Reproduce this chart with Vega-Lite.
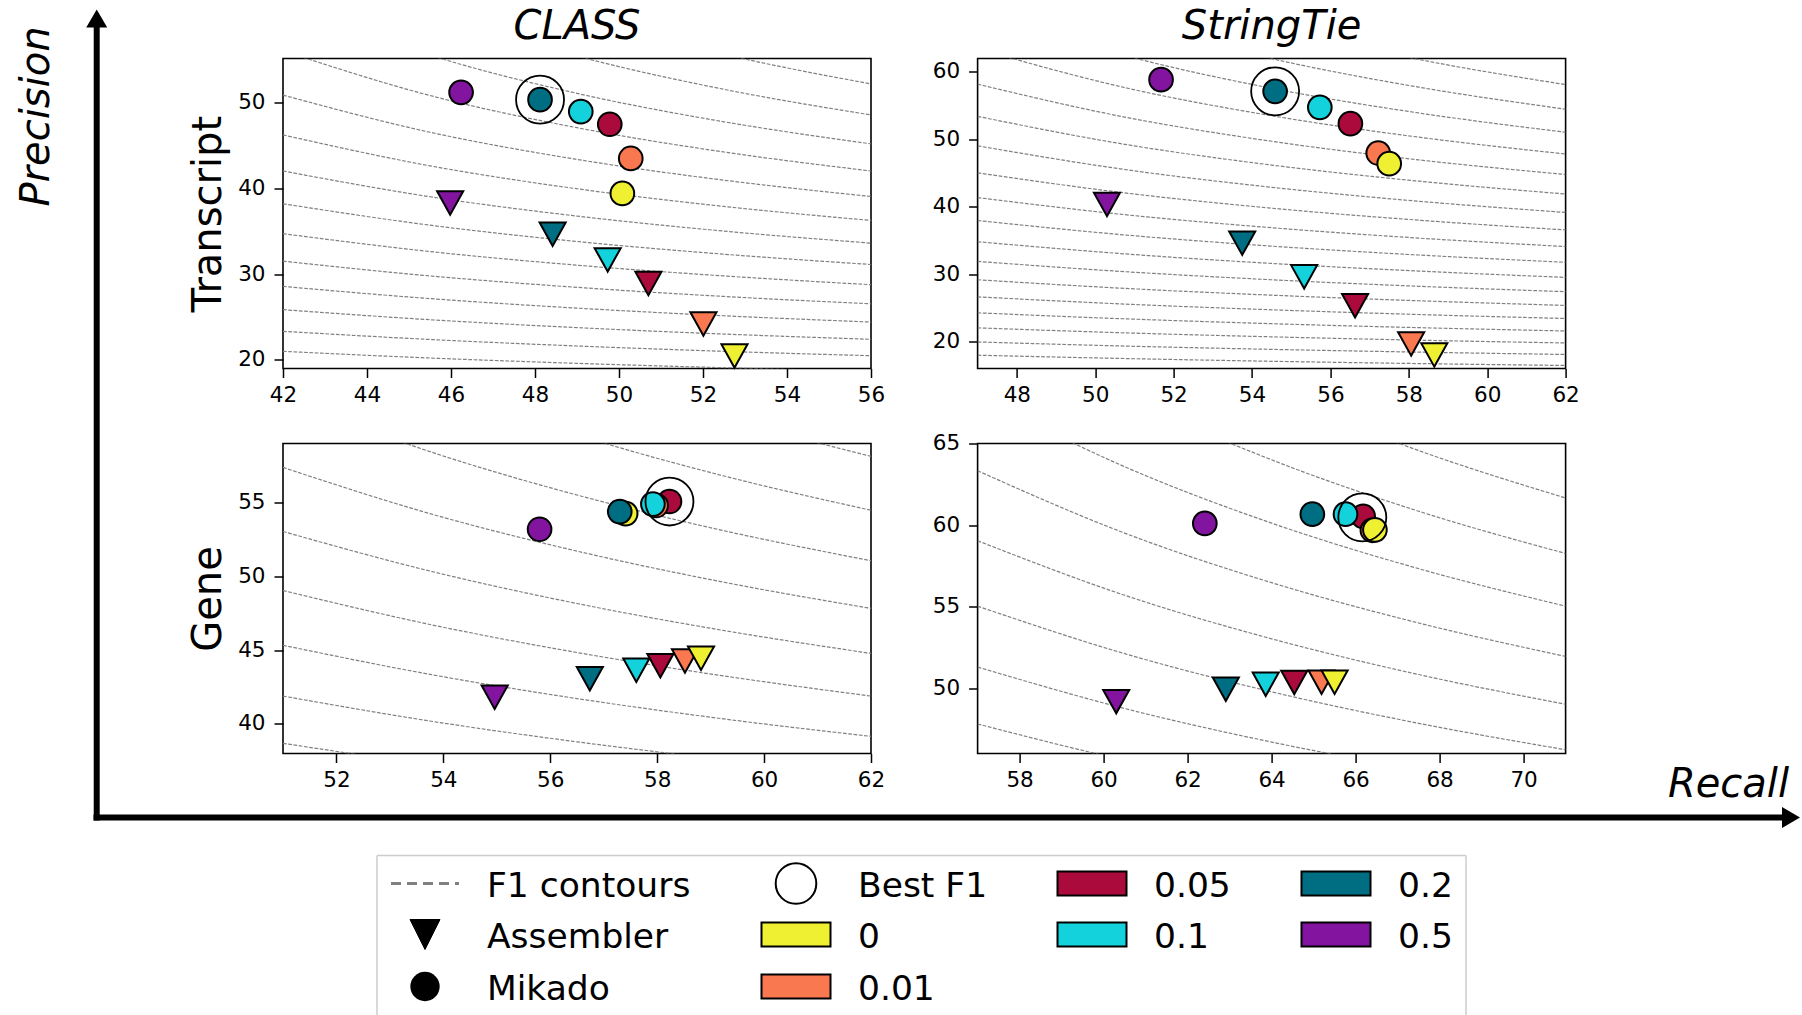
{
"$schema":"https://vega.github.io/schema/vega-lite/v6.json",
"autosize":{"type":"pad"},
"padding":{"left":16,"top":5.5,"right":0,"bottom":0},
"background":"white",
"datasets":{
"pts":[
{"t":"CLASS","l":"Transcript","m":"A","thr":"0.05","recall":50.70,"precision":28.90},
{"t":"CLASS","l":"Transcript","m":"A","thr":"0.01","recall":52.01,"precision":24.18},
{"t":"CLASS","l":"Transcript","m":"A","thr":"0","recall":52.75,"precision":20.46},
{"t":"CLASS","l":"Transcript","m":"A","thr":"0.1","recall":49.73,"precision":31.65},
{"t":"CLASS","l":"Transcript","m":"A","thr":"0.2","recall":48.42,"precision":34.63},
{"t":"CLASS","l":"Transcript","m":"A","thr":"0.5","recall":45.98,"precision":38.27},
{"t":"CLASS","l":"Transcript","m":"M","thr":"0.05","recall":49.78,"precision":47.44},
{"t":"CLASS","l":"Transcript","m":"M","thr":"0.01","recall":50.28,"precision":43.46},
{"t":"CLASS","l":"Transcript","m":"M","thr":"0","recall":50.08,"precision":39.39},
{"t":"CLASS","l":"Transcript","m":"M","thr":"0.1","recall":49.09,"precision":48.92},
{"t":"CLASS","l":"Transcript","m":"M","thr":"0.2","recall":48.12,"precision":50.31},
{"t":"CLASS","l":"Transcript","m":"M","thr":"0.5","recall":46.24,"precision":51.16},
{"t":"StringTie","l":"Transcript","m":"A","thr":"0.05","recall":56.63,"precision":25.30},
{"t":"StringTie","l":"Transcript","m":"A","thr":"0.01","recall":58.06,"precision":19.65},
{"t":"StringTie","l":"Transcript","m":"A","thr":"0","recall":58.65,"precision":18.02},
{"t":"StringTie","l":"Transcript","m":"A","thr":"0.1","recall":55.33,"precision":29.60},
{"t":"StringTie","l":"Transcript","m":"A","thr":"0.2","recall":53.75,"precision":34.60},
{"t":"StringTie","l":"Transcript","m":"A","thr":"0.5","recall":50.30,"precision":40.35},
{"t":"StringTie","l":"Transcript","m":"M","thr":"0.05","recall":56.51,"precision":52.33},
{"t":"StringTie","l":"Transcript","m":"M","thr":"0.01","recall":57.22,"precision":47.97},
{"t":"StringTie","l":"Transcript","m":"M","thr":"0","recall":57.50,"precision":46.39},
{"t":"StringTie","l":"Transcript","m":"M","thr":"0.1","recall":55.73,"precision":54.75},
{"t":"StringTie","l":"Transcript","m":"M","thr":"0.2","recall":54.59,"precision":57.13},
{"t":"StringTie","l":"Transcript","m":"M","thr":"0.5","recall":51.68,"precision":58.86},
{"t":"CLASS","l":"Gene","m":"A","thr":"0.05","recall":58.06,"precision":43.95},
{"t":"CLASS","l":"Gene","m":"A","thr":"0.01","recall":58.52,"precision":44.27},
{"t":"CLASS","l":"Gene","m":"A","thr":"0","recall":58.82,"precision":44.45},
{"t":"CLASS","l":"Gene","m":"A","thr":"0.1","recall":57.61,"precision":43.64},
{"t":"CLASS","l":"Gene","m":"A","thr":"0.2","recall":56.74,"precision":43.07},
{"t":"CLASS","l":"Gene","m":"A","thr":"0.5","recall":54.96,"precision":41.81},
{"t":"CLASS","l":"Gene","m":"M","thr":"0.05","recall":58.23,"precision":55.07},
{"t":"CLASS","l":"Gene","m":"M","thr":"0.01","recall":57.98,"precision":54.80},
{"t":"CLASS","l":"Gene","m":"M","thr":"0","recall":57.41,"precision":54.25},
{"t":"CLASS","l":"Gene","m":"M","thr":"0.1","recall":57.92,"precision":54.89},
{"t":"CLASS","l":"Gene","m":"M","thr":"0.2","recall":57.30,"precision":54.39},
{"t":"CLASS","l":"Gene","m":"M","thr":"0.5","recall":55.80,"precision":53.19},
{"t":"StringTie","l":"Gene","m":"A","thr":"0.05","recall":64.54,"precision":50.35},
{"t":"StringTie","l":"Gene","m":"A","thr":"0.01","recall":65.19,"precision":50.37},
{"t":"StringTie","l":"Gene","m":"A","thr":"0","recall":65.50,"precision":50.37},
{"t":"StringTie","l":"Gene","m":"A","thr":"0.1","recall":63.86,"precision":50.25},
{"t":"StringTie","l":"Gene","m":"A","thr":"0.2","recall":62.91,"precision":49.94},
{"t":"StringTie","l":"Gene","m":"A","thr":"0.5","recall":60.30,"precision":49.18},
{"t":"StringTie","l":"Gene","m":"M","thr":"0.05","recall":66.18,"precision":60.53},
{"t":"StringTie","l":"Gene","m":"M","thr":"0.01","recall":66.40,"precision":59.68},
{"t":"StringTie","l":"Gene","m":"M","thr":"0","recall":66.46,"precision":59.71},
{"t":"StringTie","l":"Gene","m":"M","thr":"0.1","recall":65.76,"precision":60.67},
{"t":"StringTie","l":"Gene","m":"M","thr":"0.2","recall":64.97,"precision":60.67},
{"t":"StringTie","l":"Gene","m":"M","thr":"0.5","recall":62.41,"precision":60.10}
],
"best":[
{"t":"CLASS","l":"Transcript","recall":48.12,"precision":50.31},
{"t":"StringTie","l":"Transcript","recall":54.59,"precision":57.13},
{"t":"CLASS","l":"Gene","recall":58.23,"precision":55.07},
{"t":"StringTie","l":"Gene","recall":66.16,"precision":60.47}
],
"contours":[
{"p":"TL","f":28,"recall":42,"precision":21.0},{"p":"TL","f":28,"recall":45.5,"precision":20.22},{"p":"TL","f":28,"recall":49,"precision":19.6},{"p":"TL","f":28,"recall":52.5,"precision":19.09},{"p":"TL","f":28,"recall":56,"precision":18.67},
{"p":"TL","f":30,"recall":42,"precision":23.33},{"p":"TL","f":30,"recall":45.5,"precision":22.38},{"p":"TL","f":30,"recall":49,"precision":21.62},{"p":"TL","f":30,"recall":52.5,"precision":21.0},{"p":"TL","f":30,"recall":56,"precision":20.49},
{"p":"TL","f":32,"recall":42,"precision":25.85},{"p":"TL","f":32,"recall":45.5,"precision":24.68},{"p":"TL","f":32,"recall":49,"precision":23.76},{"p":"TL","f":32,"recall":52.5,"precision":23.01},{"p":"TL","f":32,"recall":56,"precision":22.4},
{"p":"TL","f":34,"recall":42,"precision":28.56},{"p":"TL","f":34,"recall":45.5,"precision":27.14},{"p":"TL","f":34,"recall":49,"precision":26.03},{"p":"TL","f":34,"recall":52.5,"precision":25.14},{"p":"TL","f":34,"recall":56,"precision":24.41},
{"p":"TL","f":36,"recall":42,"precision":31.5},{"p":"TL","f":36,"recall":45.5,"precision":29.78},{"p":"TL","f":36,"recall":49,"precision":28.45},{"p":"TL","f":36,"recall":52.5,"precision":27.39},{"p":"TL","f":36,"recall":56,"precision":26.53},
{"p":"TL","f":38,"recall":42,"precision":34.7},{"p":"TL","f":38,"recall":45.5,"precision":32.62},{"p":"TL","f":38,"recall":49,"precision":31.03},{"p":"TL","f":38,"recall":52.5,"precision":29.78},{"p":"TL","f":38,"recall":56,"precision":28.76},
{"p":"TL","f":40,"recall":42,"precision":38.18},{"p":"TL","f":40,"recall":45.5,"precision":35.69},{"p":"TL","f":40,"recall":49,"precision":33.79},{"p":"TL","f":40,"recall":52.5,"precision":32.31},{"p":"TL","f":40,"recall":56,"precision":31.11},
{"p":"TL","f":42,"recall":42,"precision":42.0},{"p":"TL","f":42,"recall":45.5,"precision":39.0},{"p":"TL","f":42,"recall":49,"precision":36.75},{"p":"TL","f":42,"recall":52.5,"precision":35.0},{"p":"TL","f":42,"recall":56,"precision":33.6},
{"p":"TL","f":44,"recall":42,"precision":46.2},{"p":"TL","f":44,"recall":45.5,"precision":42.6},{"p":"TL","f":44,"recall":49,"precision":39.93},{"p":"TL","f":44,"recall":52.5,"precision":37.87},{"p":"TL","f":44,"recall":56,"precision":36.24},
{"p":"TL","f":46,"recall":42,"precision":50.84},{"p":"TL","f":46,"recall":45.5,"precision":46.51},{"p":"TL","f":46,"recall":49,"precision":43.35},{"p":"TL","f":46,"recall":52.5,"precision":40.93},{"p":"TL","f":46,"recall":56,"precision":39.03},
{"p":"TL","f":48,"recall":42,"precision":56.0},{"p":"TL","f":48,"recall":45.5,"precision":50.79},{"p":"TL","f":48,"recall":49,"precision":47.04},{"p":"TL","f":48,"recall":52.5,"precision":44.21},{"p":"TL","f":48,"recall":56,"precision":42.0},
{"p":"TL","f":50,"recall":42,"precision":61.76},{"p":"TL","f":50,"recall":45.5,"precision":55.49},{"p":"TL","f":50,"recall":49,"precision":51.04},{"p":"TL","f":50,"recall":52.5,"precision":47.73},{"p":"TL","f":50,"recall":56,"precision":45.16},
{"p":"TL","f":52,"recall":42,"precision":68.25},{"p":"TL","f":52,"recall":45.5,"precision":60.67},{"p":"TL","f":52,"recall":49,"precision":55.39},{"p":"TL","f":52,"recall":52.5,"precision":51.51},{"p":"TL","f":52,"recall":56,"precision":48.53},
{"p":"TL","f":54,"recall":42,"precision":75.6},{"p":"TL","f":54,"recall":45.5,"precision":66.41},{"p":"TL","f":54,"recall":49,"precision":60.14},{"p":"TL","f":54,"recall":52.5,"precision":55.59},{"p":"TL","f":54,"recall":56,"precision":52.14},
{"p":"TR","f":26,"recall":47,"precision":17.97},{"p":"TR","f":26,"recall":50.75,"precision":17.48},{"p":"TR","f":26,"recall":54.5,"precision":17.07},{"p":"TR","f":26,"recall":58.25,"precision":16.73},{"p":"TR","f":26,"recall":62,"precision":16.45},
{"p":"TR","f":28,"recall":47,"precision":19.94},{"p":"TR","f":28,"recall":50.75,"precision":19.33},{"p":"TR","f":28,"recall":54.5,"precision":18.84},{"p":"TR","f":28,"recall":58.25,"precision":18.43},{"p":"TR","f":28,"recall":62,"precision":18.08},
{"p":"TR","f":30,"recall":47,"precision":22.03},{"p":"TR","f":30,"recall":50.75,"precision":21.29},{"p":"TR","f":30,"recall":54.5,"precision":20.70},{"p":"TR","f":30,"recall":58.25,"precision":20.20},{"p":"TR","f":30,"recall":62,"precision":19.79},
{"p":"TR","f":32,"recall":47,"precision":24.26},{"p":"TR","f":32,"recall":50.75,"precision":23.37},{"p":"TR","f":32,"recall":54.5,"precision":22.65},{"p":"TR","f":32,"recall":58.25,"precision":22.06},{"p":"TR","f":32,"recall":62,"precision":21.57},
{"p":"TR","f":34,"recall":47,"precision":26.63},{"p":"TR","f":34,"recall":50.75,"precision":25.56},{"p":"TR","f":34,"recall":54.5,"precision":24.71},{"p":"TR","f":34,"recall":58.25,"precision":24.01},{"p":"TR","f":34,"recall":62,"precision":23.42},
{"p":"TR","f":36,"recall":47,"precision":29.17},{"p":"TR","f":36,"recall":50.75,"precision":27.89},{"p":"TR","f":36,"recall":54.5,"precision":26.88},{"p":"TR","f":36,"recall":58.25,"precision":26.05},{"p":"TR","f":36,"recall":62,"precision":25.36},
{"p":"TR","f":38,"recall":47,"precision":31.89},{"p":"TR","f":38,"recall":50.75,"precision":30.37},{"p":"TR","f":38,"recall":54.5,"precision":29.17},{"p":"TR","f":38,"recall":58.25,"precision":28.20},{"p":"TR","f":38,"recall":62,"precision":27.40},
{"p":"TR","f":40,"recall":47,"precision":34.81},{"p":"TR","f":40,"recall":50.75,"precision":33.01},{"p":"TR","f":40,"recall":54.5,"precision":31.59},{"p":"TR","f":40,"recall":58.25,"precision":30.46},{"p":"TR","f":40,"recall":62,"precision":29.52},
{"p":"TR","f":42,"recall":47,"precision":37.96},{"p":"TR","f":42,"recall":50.75,"precision":35.82},{"p":"TR","f":42,"recall":54.5,"precision":34.16},{"p":"TR","f":42,"recall":58.25,"precision":32.84},{"p":"TR","f":42,"recall":62,"precision":31.76},
{"p":"TR","f":44,"recall":47,"precision":41.36},{"p":"TR","f":44,"recall":50.75,"precision":38.83},{"p":"TR","f":44,"recall":54.5,"precision":36.89},{"p":"TR","f":44,"recall":58.25,"precision":35.35},{"p":"TR","f":44,"recall":62,"precision":34.10},
{"p":"TR","f":46,"recall":47,"precision":45.04},{"p":"TR","f":46,"recall":50.75,"precision":42.06},{"p":"TR","f":46,"recall":54.5,"precision":39.79},{"p":"TR","f":46,"recall":58.25,"precision":38.01},{"p":"TR","f":46,"recall":62,"precision":36.56},
{"p":"TR","f":48,"recall":47,"precision":49.04},{"p":"TR","f":48,"recall":50.75,"precision":45.53},{"p":"TR","f":48,"recall":54.5,"precision":42.89},{"p":"TR","f":48,"recall":58.25,"precision":40.82},{"p":"TR","f":48,"recall":62,"precision":39.16},
{"p":"TR","f":50,"recall":47,"precision":53.41},{"p":"TR","f":50,"recall":50.75,"precision":49.27},{"p":"TR","f":50,"recall":54.5,"precision":46.19},{"p":"TR","f":50,"recall":58.25,"precision":43.80},{"p":"TR","f":50,"recall":62,"precision":41.89},
{"p":"TR","f":52,"recall":47,"precision":58.19},{"p":"TR","f":52,"recall":50.75,"precision":53.31},{"p":"TR","f":52,"recall":54.5,"precision":49.72},{"p":"TR","f":52,"recall":58.25,"precision":46.96},{"p":"TR","f":52,"recall":62,"precision":44.78},
{"p":"TR","f":54,"recall":47,"precision":63.45},{"p":"TR","f":54,"recall":50.75,"precision":57.69},{"p":"TR","f":54,"recall":54.5,"precision":53.51},{"p":"TR","f":54,"recall":58.25,"precision":50.33},{"p":"TR","f":54,"recall":62,"precision":47.83},
{"p":"TR","f":56,"recall":47,"precision":69.26},{"p":"TR","f":56,"recall":50.75,"precision":62.46},{"p":"TR","f":56,"recall":54.5,"precision":57.58},{"p":"TR","f":56,"recall":58.25,"precision":53.92},{"p":"TR","f":56,"recall":62,"precision":51.06},
{"p":"TR","f":58,"recall":47,"precision":75.72},{"p":"TR","f":58,"recall":50.75,"precision":67.67},{"p":"TR","f":58,"recall":54.5,"precision":61.98},{"p":"TR","f":58,"recall":58.25,"precision":57.75},{"p":"TR","f":58,"recall":62,"precision":54.48},
{"p":"TR","f":60,"recall":47,"precision":82.94},{"p":"TR","f":60,"recall":50.75,"precision":73.37},{"p":"TR","f":60,"recall":54.5,"precision":66.73},{"p":"TR","f":60,"recall":58.25,"precision":61.86},{"p":"TR","f":60,"recall":62,"precision":58.13},
{"p":"BL","f":44,"recall":51,"precision":38.69},{"p":"BL","f":44,"recall":53.75,"precision":37.24},{"p":"BL","f":44,"recall":56.5,"precision":36.03},{"p":"BL","f":44,"recall":59.25,"precision":34.99},{"p":"BL","f":44,"recall":62,"precision":34.10},
{"p":"BL","f":46,"recall":51,"precision":41.89},{"p":"BL","f":46,"recall":53.75,"precision":40.20},{"p":"BL","f":46,"recall":56.5,"precision":38.79},{"p":"BL","f":46,"recall":59.25,"precision":37.59},{"p":"BL","f":46,"recall":62,"precision":36.56},
{"p":"BL","f":48,"recall":51,"precision":45.33},{"p":"BL","f":48,"recall":53.75,"precision":43.36},{"p":"BL","f":48,"recall":56.5,"precision":41.72},{"p":"BL","f":48,"recall":59.25,"precision":40.34},{"p":"BL","f":48,"recall":62,"precision":39.16},
{"p":"BL","f":50,"recall":51,"precision":49.04},{"p":"BL","f":50,"recall":53.75,"precision":46.74},{"p":"BL","f":50,"recall":56.5,"precision":44.84},{"p":"BL","f":50,"recall":59.25,"precision":43.25},{"p":"BL","f":50,"recall":62,"precision":41.89},
{"p":"BL","f":52,"recall":51,"precision":53.04},{"p":"BL","f":52,"recall":53.75,"precision":50.36},{"p":"BL","f":52,"recall":56.5,"precision":48.16},{"p":"BL","f":52,"recall":59.25,"precision":46.33},{"p":"BL","f":52,"recall":62,"precision":44.78},
{"p":"BL","f":54,"recall":51,"precision":57.38},{"p":"BL","f":54,"recall":53.75,"precision":54.25},{"p":"BL","f":54,"recall":56.5,"precision":51.71},{"p":"BL","f":54,"recall":59.25,"precision":49.60},{"p":"BL","f":54,"recall":62,"precision":47.83},
{"p":"BL","f":56,"recall":51,"precision":62.09},{"p":"BL","f":56,"recall":53.75,"precision":58.45},{"p":"BL","f":56,"recall":56.5,"precision":55.51},{"p":"BL","f":56,"recall":59.25,"precision":53.09},{"p":"BL","f":56,"recall":62,"precision":51.06},
{"p":"BL","f":58,"recall":51,"precision":67.23},{"p":"BL","f":58,"recall":53.75,"precision":62.98},{"p":"BL","f":58,"recall":56.5,"precision":59.58},{"p":"BL","f":58,"recall":59.25,"precision":56.80},{"p":"BL","f":58,"recall":62,"precision":54.48},
{"p":"BL","f":60,"recall":51,"precision":72.86},{"p":"BL","f":60,"recall":53.75,"precision":67.89},{"p":"BL","f":60,"recall":56.5,"precision":63.96},{"p":"BL","f":60,"recall":59.25,"precision":60.77},{"p":"BL","f":60,"recall":62,"precision":58.13},
{"p":"BR","f":52,"recall":57,"precision":47.81},{"p":"BR","f":52,"recall":60.5,"precision":45.59},{"p":"BR","f":52,"recall":64,"precision":43.79},{"p":"BR","f":52,"recall":67.5,"precision":42.29},{"p":"BR","f":52,"recall":71,"precision":41.02},
{"p":"BR","f":54,"recall":57,"precision":51.3},{"p":"BR","f":54,"recall":60.5,"precision":48.76},{"p":"BR","f":54,"recall":64,"precision":46.70},{"p":"BR","f":54,"recall":67.5,"precision":45.0},{"p":"BR","f":54,"recall":71,"precision":43.57},
{"p":"BR","f":56,"recall":57,"precision":55.03},{"p":"BR","f":56,"recall":60.5,"precision":52.12},{"p":"BR","f":56,"recall":64,"precision":49.78},{"p":"BR","f":56,"recall":67.5,"precision":47.85},{"p":"BR","f":56,"recall":71,"precision":46.23},
{"p":"BR","f":58,"recall":57,"precision":59.04},{"p":"BR","f":58,"recall":60.5,"precision":55.70},{"p":"BR","f":58,"recall":64,"precision":53.03},{"p":"BR","f":58,"recall":67.5,"precision":50.84},{"p":"BR","f":58,"recall":71,"precision":49.02},
{"p":"BR","f":60,"recall":57,"precision":63.33},{"p":"BR","f":60,"recall":60.5,"precision":59.51},{"p":"BR","f":60,"recall":64,"precision":56.47},{"p":"BR","f":60,"recall":67.5,"precision":54.0},{"p":"BR","f":60,"recall":71,"precision":51.95},
{"p":"BR","f":62,"recall":57,"precision":67.96},{"p":"BR","f":62,"recall":60.5,"precision":63.58},{"p":"BR","f":62,"recall":64,"precision":60.12},{"p":"BR","f":62,"recall":67.5,"precision":57.33},{"p":"BR","f":62,"recall":71,"precision":55.03},
{"p":"BR","f":64,"recall":57,"precision":72.96},{"p":"BR","f":64,"recall":60.5,"precision":67.93},{"p":"BR","f":64,"recall":64,"precision":64.0},{"p":"BR","f":64,"recall":67.5,"precision":60.85},{"p":"BR","f":64,"recall":71,"precision":58.26},
{"p":"BR","f":66,"recall":57,"precision":78.38},{"p":"BR","f":66,"recall":60.5,"precision":72.6},{"p":"BR","f":66,"recall":64,"precision":68.13},{"p":"BR","f":66,"recall":67.5,"precision":64.57},{"p":"BR","f":66,"recall":71,"precision":61.66}
],
"legend":[
{"label":"F1 contours","col":0,"row":0,"kind":"line"},
{"label":"Assembler","col":0,"row":1,"kind":"tri"},
{"label":"Mikado","col":0,"row":2,"kind":"dot"},
{"label":"Best F1","col":1,"row":0,"kind":"ring"},
{"label":"0","col":1,"row":1,"kind":"swatch"},
{"label":"0.01","col":1,"row":2,"kind":"swatch"},
{"label":"0.05","col":2,"row":0,"kind":"swatch"},
{"label":"0.1","col":2,"row":1,"kind":"swatch"},
{"label":"0.2","col":3,"row":0,"kind":"swatch"},
{"label":"0.5","col":3,"row":1,"kind":"swatch"}
]
},
"columns":2,
"bounds":"flush",
"spacing":{"row":75,"column":106.6},
"concat":[
  {"width":588,"height":310,"title":{"text":"CLASS"},
   "layer":[
    {"data":{"name":"contours"},"transform":[{"filter":"datum.p==='TL'"}],
     "mark":{"type":"line","clip":true,"stroke":"#808080","strokeWidth":1.2,"strokeDash":[3.7,1.6],"interpolate":"monotone"},
     "encoding":{"x":{"field":"recall","type":"quantitative","scale":{"domain":[42,56],"nice":false,"zero":false},"axis":{"values":[42,44,46,48,50,52,54,56],"title":null}},
                 "y":{"field":"precision","type":"quantitative","scale":{"domain":[19,55.1],"nice":false,"zero":false},"axis":{"values":[20,30,40,50],"title":"Transcript"}},
                 "detail":{"field":"f","type":"nominal"}}},
    {"data":{"name":"pts"},"transform":[{"filter":"datum.t==='CLASS' && datum.l==='Transcript' && datum.m==='A'"}],
     "mark":{"type":"point","shape":"M0,0.9L-1,-0.9L1,-0.9Z","filled":true,"size":680,"stroke":"black","strokeWidth":2,"opacity":1},
     "encoding":{"x":{"field":"recall","type":"quantitative","scale":{"domain":[42,56],"nice":false,"zero":false}},"y":{"field":"precision","type":"quantitative","scale":{"domain":[19,55.1],"nice":false,"zero":false}},
                 "fill":{"field":"thr","type":"nominal","scale":{"domain":["0","0.01","0.05","0.1","0.2","0.5"],"range":["#f0f032","#fa7850","#aa0a3c","#14d2dc","#006e82","#8214a0"]},"legend":null}}},
    {"data":{"name":"pts"},"transform":[{"filter":"datum.t==='CLASS' && datum.l==='Transcript' && datum.m==='M'"}],
     "mark":{"type":"point","shape":"circle","filled":true,"size":560,"stroke":"black","strokeWidth":2,"opacity":1},
     "encoding":{"x":{"field":"recall","type":"quantitative","scale":{"domain":[42,56],"nice":false,"zero":false}},"y":{"field":"precision","type":"quantitative","scale":{"domain":[19,55.1],"nice":false,"zero":false}},
                 "fill":{"field":"thr","type":"nominal","scale":{"domain":["0","0.01","0.05","0.1","0.2","0.5"],"range":["#f0f032","#fa7850","#aa0a3c","#14d2dc","#006e82","#8214a0"]},"legend":null}}},
    {"data":{"name":"best"},"transform":[{"filter":"datum.t==='CLASS' && datum.l==='Transcript'"}],
     "mark":{"type":"point","shape":"circle","filled":false,"size":2300,"stroke":"black","strokeWidth":1.8,"opacity":1},
     "encoding":{"x":{"field":"recall","type":"quantitative","scale":{"domain":[42,56],"nice":false,"zero":false}},"y":{"field":"precision","type":"quantitative","scale":{"domain":[19,55.1],"nice":false,"zero":false}}}}
   ]},
  {"width":588,"height":310,"title":{"text":"StringTie"},
   "layer":[
    {"data":{"name":"contours"},"transform":[{"filter":"datum.p==='TR'"}],
     "mark":{"type":"line","clip":true,"stroke":"#808080","strokeWidth":1.2,"strokeDash":[3.7,1.6],"interpolate":"monotone"},
     "encoding":{"x":{"field":"recall","type":"quantitative","scale":{"domain":[47,62],"nice":false,"zero":false},"axis":{"values":[48,50,52,54,56,58,60,62],"title":null}},
                 "y":{"field":"precision","type":"quantitative","scale":{"domain":[16,62],"nice":false,"zero":false},"axis":{"values":[20,30,40,50,60],"title":null}},
                 "detail":{"field":"f","type":"nominal"}}},
    {"data":{"name":"pts"},"transform":[{"filter":"datum.t==='StringTie' && datum.l==='Transcript' && datum.m==='A'"}],
     "mark":{"type":"point","shape":"M0,0.9L-1,-0.9L1,-0.9Z","filled":true,"size":680,"stroke":"black","strokeWidth":2,"opacity":1},
     "encoding":{"x":{"field":"recall","type":"quantitative","scale":{"domain":[47,62],"nice":false,"zero":false}},"y":{"field":"precision","type":"quantitative","scale":{"domain":[16,62],"nice":false,"zero":false}},
                 "fill":{"field":"thr","type":"nominal","scale":{"domain":["0","0.01","0.05","0.1","0.2","0.5"],"range":["#f0f032","#fa7850","#aa0a3c","#14d2dc","#006e82","#8214a0"]},"legend":null}}},
    {"data":{"name":"pts"},"transform":[{"filter":"datum.t==='StringTie' && datum.l==='Transcript' && datum.m==='M'"}],
     "mark":{"type":"point","shape":"circle","filled":true,"size":560,"stroke":"black","strokeWidth":2,"opacity":1},
     "encoding":{"x":{"field":"recall","type":"quantitative","scale":{"domain":[47,62],"nice":false,"zero":false}},"y":{"field":"precision","type":"quantitative","scale":{"domain":[16,62],"nice":false,"zero":false}},
                 "fill":{"field":"thr","type":"nominal","scale":{"domain":["0","0.01","0.05","0.1","0.2","0.5"],"range":["#f0f032","#fa7850","#aa0a3c","#14d2dc","#006e82","#8214a0"]},"legend":null}}},
    {"data":{"name":"best"},"transform":[{"filter":"datum.t==='StringTie' && datum.l==='Transcript'"}],
     "mark":{"type":"point","shape":"circle","filled":false,"size":2300,"stroke":"black","strokeWidth":1.8,"opacity":1},
     "encoding":{"x":{"field":"recall","type":"quantitative","scale":{"domain":[47,62],"nice":false,"zero":false}},"y":{"field":"precision","type":"quantitative","scale":{"domain":[16,62],"nice":false,"zero":false}}}}
   ]},
  {"width":588,"height":310,
   "layer":[
    {"data":{"name":"contours"},"transform":[{"filter":"datum.p==='BL'"}],
     "mark":{"type":"line","clip":true,"stroke":"#808080","strokeWidth":1.2,"strokeDash":[3.7,1.6],"interpolate":"monotone"},
     "encoding":{"x":{"field":"recall","type":"quantitative","scale":{"domain":[51,62],"nice":false,"zero":false},"axis":{"values":[52,54,56,58,60,62],"title":null}},
                 "y":{"field":"precision","type":"quantitative","scale":{"domain":[38,59],"nice":false,"zero":false},"axis":{"values":[40,45,50,55],"title":"Gene"}},
                 "detail":{"field":"f","type":"nominal"}}},
    {"data":{"name":"pts"},"transform":[{"filter":"datum.t==='CLASS' && datum.l==='Gene' && datum.m==='A'"}],
     "mark":{"type":"point","shape":"M0,0.9L-1,-0.9L1,-0.9Z","filled":true,"size":680,"stroke":"black","strokeWidth":2,"opacity":1},
     "encoding":{"x":{"field":"recall","type":"quantitative","scale":{"domain":[51,62],"nice":false,"zero":false}},"y":{"field":"precision","type":"quantitative","scale":{"domain":[38,59],"nice":false,"zero":false}},
                 "fill":{"field":"thr","type":"nominal","scale":{"domain":["0","0.01","0.05","0.1","0.2","0.5"],"range":["#f0f032","#fa7850","#aa0a3c","#14d2dc","#006e82","#8214a0"]},"legend":null}}},
    {"data":{"name":"pts"},"transform":[{"filter":"datum.t==='CLASS' && datum.l==='Gene' && datum.m==='M'"}],
     "mark":{"type":"point","shape":"circle","filled":true,"size":560,"stroke":"black","strokeWidth":2,"opacity":1},
     "encoding":{"x":{"field":"recall","type":"quantitative","scale":{"domain":[51,62],"nice":false,"zero":false}},"y":{"field":"precision","type":"quantitative","scale":{"domain":[38,59],"nice":false,"zero":false}},
                 "fill":{"field":"thr","type":"nominal","scale":{"domain":["0","0.01","0.05","0.1","0.2","0.5"],"range":["#f0f032","#fa7850","#aa0a3c","#14d2dc","#006e82","#8214a0"]},"legend":null}}},
    {"data":{"name":"best"},"transform":[{"filter":"datum.t==='CLASS' && datum.l==='Gene'"}],
     "mark":{"type":"point","shape":"circle","filled":false,"size":2300,"stroke":"black","strokeWidth":1.8,"opacity":1},
     "encoding":{"x":{"field":"recall","type":"quantitative","scale":{"domain":[51,62],"nice":false,"zero":false}},"y":{"field":"precision","type":"quantitative","scale":{"domain":[38,59],"nice":false,"zero":false}}}},
    {"data":{"values":[{}]},
     "mark":{"type":"rule","stroke":"black","strokeWidth":6},
     "encoding":{"x":{"datum":47.515,"scale":{"domain":[51,62],"nice":false,"zero":false}},"y":{"datum":87.316,"scale":{"domain":[38,59],"nice":false,"zero":false}},"y2":{"datum":33.461}}},
    {"data":{"values":[{}]},
     "mark":{"type":"rule","stroke":"black","strokeWidth":6},
     "encoding":{"x":{"datum":47.455,"scale":{"domain":[51,62],"nice":false,"zero":false}},"x2":{"datum":79.099},"y":{"datum":33.665,"scale":{"domain":[38,59],"nice":false,"zero":false}}}},
    {"data":{"values":[{}]},
     "mark":{"type":"point","shape":"M0,-0.857L1,0.857L-1,0.857Z","filled":true,"fill":"black","size":441,"strokeWidth":0,"opacity":1},
     "encoding":{"x":{"datum":47.515,"scale":{"domain":[51,62],"nice":false,"zero":false}},"y":{"datum":87.79,"scale":{"domain":[38,59],"nice":false,"zero":false}}}},
    {"data":{"values":[{}]},
     "mark":{"type":"point","shape":"M0.857,0L-0.857,-1L-0.857,1Z","filled":true,"fill":"black","size":441,"strokeWidth":0,"opacity":1},
     "encoding":{"x":{"datum":79.211,"scale":{"domain":[51,62],"nice":false,"zero":false}},"y":{"datum":33.665,"scale":{"domain":[38,59],"nice":false,"zero":false}}}},
    {"data":{"values":[{}]},
     "mark":{"type":"text","text":"Precision","angle":270,"align":"center","baseline":"middle","fontSize":40,"fontStyle":"italic","font":"DejaVu Sans","color":"black"},
     "encoding":{"x":{"datum":46.398,"scale":{"domain":[51,62],"nice":false,"zero":false}},"y":{"datum":81.152,"scale":{"domain":[38,59],"nice":false,"zero":false}}}},
    {"data":{"values":[{}]},
     "mark":{"type":"text","text":"Recall","align":"right","baseline":"alphabetic","fontSize":40,"fontStyle":"italic","font":"DejaVu Sans","color":"black"},
     "encoding":{"x":{"datum":79.174,"scale":{"domain":[51,62],"nice":false,"zero":false}},"y":{"datum":35.087,"scale":{"domain":[38,59],"nice":false,"zero":false}}}}
   ]},
  {"width":588,"height":310,
   "layer":[
    {"data":{"name":"contours"},"transform":[{"filter":"datum.p==='BR'"}],
     "mark":{"type":"line","clip":true,"stroke":"#808080","strokeWidth":1.2,"strokeDash":[3.7,1.6],"interpolate":"monotone"},
     "encoding":{"x":{"field":"recall","type":"quantitative","scale":{"domain":[57,71],"nice":false,"zero":false},"axis":{"values":[58,60,62,64,66,68,70],"title":null}},
                 "y":{"field":"precision","type":"quantitative","scale":{"domain":[46,65],"nice":false,"zero":false},"axis":{"values":[50,55,60,65],"title":null}},
                 "detail":{"field":"f","type":"nominal"}}},
    {"data":{"name":"pts"},"transform":[{"filter":"datum.t==='StringTie' && datum.l==='Gene' && datum.m==='A'"}],
     "mark":{"type":"point","shape":"M0,0.9L-1,-0.9L1,-0.9Z","filled":true,"size":680,"stroke":"black","strokeWidth":2,"opacity":1},
     "encoding":{"x":{"field":"recall","type":"quantitative","scale":{"domain":[57,71],"nice":false,"zero":false}},"y":{"field":"precision","type":"quantitative","scale":{"domain":[46,65],"nice":false,"zero":false}},
                 "fill":{"field":"thr","type":"nominal","scale":{"domain":["0","0.01","0.05","0.1","0.2","0.5"],"range":["#f0f032","#fa7850","#aa0a3c","#14d2dc","#006e82","#8214a0"]},"legend":null}}},
    {"data":{"name":"pts"},"transform":[{"filter":"datum.t==='StringTie' && datum.l==='Gene' && datum.m==='M'"}],
     "mark":{"type":"point","shape":"circle","filled":true,"size":560,"stroke":"black","strokeWidth":2,"opacity":1},
     "encoding":{"x":{"field":"recall","type":"quantitative","scale":{"domain":[57,71],"nice":false,"zero":false}},"y":{"field":"precision","type":"quantitative","scale":{"domain":[46,65],"nice":false,"zero":false}},
                 "fill":{"field":"thr","type":"nominal","scale":{"domain":["0","0.01","0.05","0.1","0.2","0.5"],"range":["#f0f032","#fa7850","#aa0a3c","#14d2dc","#006e82","#8214a0"]},"legend":null}}},
    {"data":{"name":"best"},"transform":[{"filter":"datum.t==='StringTie' && datum.l==='Gene'"}],
     "mark":{"type":"point","shape":"circle","filled":false,"size":2300,"stroke":"black","strokeWidth":1.8,"opacity":1},
     "encoding":{"x":{"field":"recall","type":"quantitative","scale":{"domain":[57,71],"nice":false,"zero":false}},"y":{"field":"precision","type":"quantitative","scale":{"domain":[46,65],"nice":false,"zero":false}}}}
   ]},
  {"width":588,"height":187,"view":{"stroke":null},
   "layer":[
    {"data":{"values":[{}]},
     "mark":{"type":"rule","stroke":"#cccccc","strokeWidth":1.5},
     "encoding":{"x":{"datum":0,"type":"quantitative","scale":{"domain":[0,1],"range":[94,1183],"nice":false,"zero":false},"axis":null},"x2":{"datum":1},
                 "y":{"datum":0,"type":"quantitative","scale":{"domain":[0,1],"range":[27,187],"nice":false,"zero":false},"axis":null}}},
    {"data":{"values":[{}]},
     "mark":{"type":"rule","stroke":"#cccccc","strokeWidth":1.5},
     "encoding":{"x":{"datum":0,"type":"quantitative","scale":{"domain":[0,1],"range":[94,1183],"nice":false,"zero":false},"axis":null},
                 "y":{"datum":0,"type":"quantitative","scale":{"domain":[0,1],"range":[27,187],"nice":false,"zero":false},"axis":null},"y2":{"datum":1}}},
    {"data":{"values":[{}]},
     "mark":{"type":"rule","stroke":"#cccccc","strokeWidth":1.5},
     "encoding":{"x":{"datum":1,"type":"quantitative","scale":{"domain":[0,1],"range":[94,1183],"nice":false,"zero":false},"axis":null},
                 "y":{"datum":0,"type":"quantitative","scale":{"domain":[0,1],"range":[27,187],"nice":false,"zero":false},"axis":null},"y2":{"datum":1}}},
    {"data":{"name":"legend"},"transform":[{"filter":"datum.kind==='line'"}],
     "mark":{"type":"point","shape":"M-1,0L1,0","filled":false,"size":4624,"stroke":"#808080","strokeWidth":3,"strokeDash":[10,6],"opacity":1},
     "encoding":{"x":{"field":"col","type":"quantitative","scale":{"domain":[0,1,2,3],"range":[142,513,809,1053],"nice":false,"zero":false},"axis":null},
                 "y":{"field":"row","type":"quantitative","scale":{"domain":[0,1,2],"range":[55,106,158],"nice":false,"zero":false},"axis":null}}},
    {"data":{"name":"legend"},"transform":[{"filter":"datum.kind==='tri'"}],
     "mark":{"type":"point","shape":"M0,1L-1,-1L1,-1Z","filled":true,"fill":"black","size":900,"stroke":"black","strokeWidth":1,"opacity":1},
     "encoding":{"x":{"field":"col","type":"quantitative","scale":{"domain":[0,1,2,3],"range":[142,513,809,1053],"nice":false,"zero":false},"axis":null},
                 "y":{"field":"row","type":"quantitative","scale":{"domain":[0,1,2],"range":[55,106,158],"nice":false,"zero":false},"axis":null}}},
    {"data":{"name":"legend"},"transform":[{"filter":"datum.kind==='dot'"}],
     "mark":{"type":"point","shape":"circle","filled":true,"fill":"black","size":860,"opacity":1},
     "encoding":{"x":{"field":"col","type":"quantitative","scale":{"domain":[0,1,2,3],"range":[142,513,809,1053],"nice":false,"zero":false},"axis":null},
                 "y":{"field":"row","type":"quantitative","scale":{"domain":[0,1,2],"range":[55,106,158],"nice":false,"zero":false},"axis":null}}},
    {"data":{"name":"legend"},"transform":[{"filter":"datum.kind==='ring'"}],
     "mark":{"type":"point","shape":"circle","filled":false,"size":1650,"stroke":"black","strokeWidth":2,"opacity":1},
     "encoding":{"x":{"field":"col","type":"quantitative","scale":{"domain":[0,1,2,3],"range":[142,513,809,1053],"nice":false,"zero":false},"axis":null},
                 "y":{"field":"row","type":"quantitative","scale":{"domain":[0,1,2],"range":[55,106,158],"nice":false,"zero":false},"axis":null}}},
    {"data":{"name":"legend"},"transform":[{"filter":"datum.kind==='swatch'"}],
     "mark":{"type":"point","shape":"M-1,-0.35L1,-0.35L1,0.35L-1,0.35Z","filled":true,"size":4761,"stroke":"black","strokeWidth":2,"opacity":1},
     "encoding":{"x":{"field":"col","type":"quantitative","scale":{"domain":[0,1,2,3],"range":[142,513,809,1053],"nice":false,"zero":false},"axis":null},
                 "y":{"field":"row","type":"quantitative","scale":{"domain":[0,1,2],"range":[55,106,158],"nice":false,"zero":false},"axis":null},
                 "fill":{"field":"label","type":"nominal","scale":{"domain":["0","0.01","0.05","0.1","0.2","0.5"],"range":["#f0f032","#fa7850","#aa0a3c","#14d2dc","#006e82","#8214a0"]},"legend":null}}},
    {"data":{"name":"legend"},
     "mark":{"type":"text","align":"left","baseline":"middle","dx":62,"dy":3,"fontSize":34.5,"font":"DejaVu Sans","color":"black"},
     "encoding":{"x":{"field":"col","type":"quantitative","scale":{"domain":[0,1,2,3],"range":[142,513,809,1053],"nice":false,"zero":false},"axis":null},
                 "y":{"field":"row","type":"quantitative","scale":{"domain":[0,1,2],"range":[55,106,158],"nice":false,"zero":false},"axis":null},
                 "text":{"field":"label","type":"nominal"}}}
   ],
   "resolve":{"scale":{"x":"independent","y":"independent"}}
  }
],
"config":{
 "font":"DejaVu Sans",
 "view":{"stroke":"black","strokeWidth":1.6},
 "axis":{"domain":false,"grid":false,"labelFont":"DejaVu Sans","labelFontSize":21.5,"labelColor":"black","labelPadding":7,"labelFlush":false,"labelOverlap":false,"tickColor":"black","tickWidth":1.5,"tickSize":9,"titleFont":"DejaVu Sans","titleFontSize":40,"titleFontWeight":"normal","titleColor":"black","titlePadding":9},
 "axisY":{"labelPadding":9},
 "title":{"font":"DejaVu Sans","fontSize":40,"fontStyle":"italic","fontWeight":"normal","color":"black","anchor":"middle","baseline":"alphabetic","offset":11.5}
}
}
